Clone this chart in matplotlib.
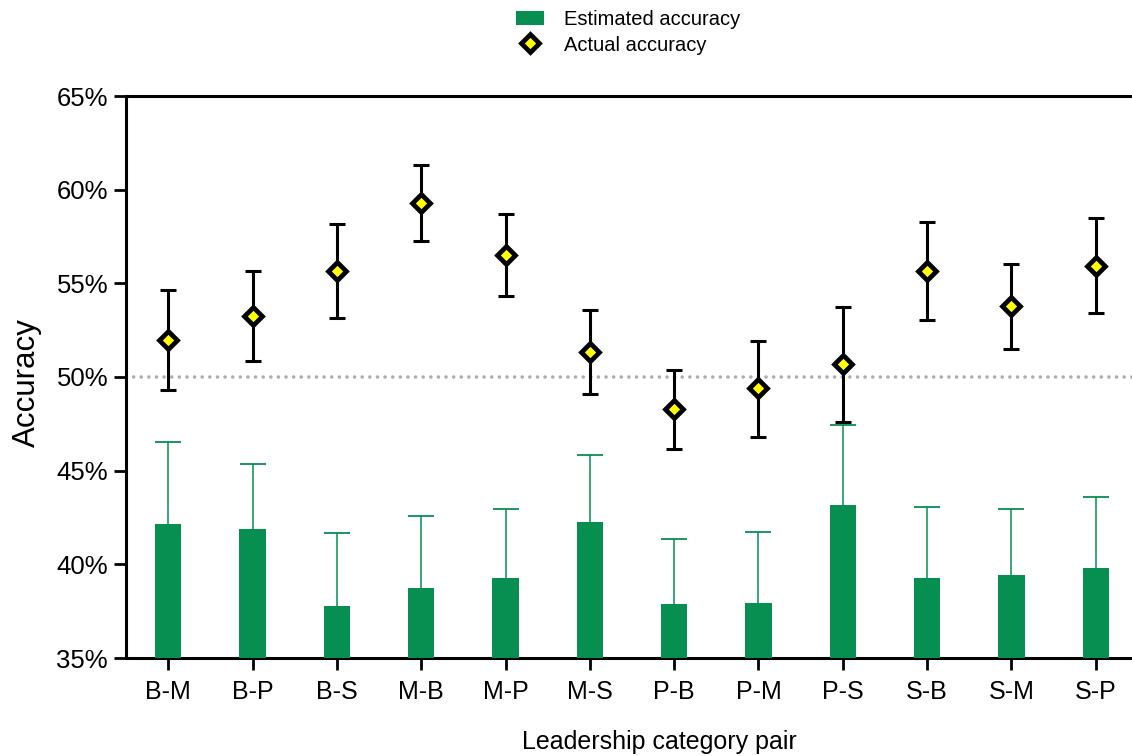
import matplotlib
matplotlib.use("Agg")
import matplotlib.pyplot as plt
import numpy as np
from matplotlib.ticker import PercentFormatter
from matplotlib.lines import Line2D
from matplotlib.patches import Patch

plt.rcParams['font.family'] = ['Liberation Sans', 'DejaVu Sans']

categories = ["B-M", "B-P", "B-S", "M-B", "M-P", "M-S", "P-B", "P-M", "P-S", "S-B", "S-M", "S-P"]

# Estimated accuracy (bars) and upper end of its error bar
estimated = [42.15, 41.88, 37.77, 38.74, 39.27, 42.26, 37.88, 37.93, 43.16, 39.27, 39.43, 39.80]
estimated_upper = [46.53, 45.37, 41.67, 42.56, 42.97, 45.85, 41.37, 41.74, 47.45, 43.07, 42.93, 43.58]

# Actual accuracy (points) with interval bounds
actual = [52.00, 53.24, 55.64, 59.28, 56.52, 51.32, 48.29, 49.39, 50.72, 55.64, 53.77, 55.91]
actual_lower = [49.33, 50.83, 53.13, 57.26, 54.31, 49.08, 46.17, 46.82, 47.62, 53.02, 51.52, 53.40]
actual_upper = [54.63, 55.64, 58.16, 61.30, 58.71, 53.56, 50.36, 51.90, 53.72, 58.26, 56.02, 58.48]

chance_level = 50
y_ticks = [35, 40, 45, 50, 55, 60, 65]

green = '#078f51'

fig = plt.figure(figsize=(11.32, 7.56), dpi=100)
ax = fig.add_axes([126/1132, 98/756, (1138-126)/1132, (658-96)/756])

x = np.arange(len(categories))
est = np.array(estimated)
est_err = np.array(estimated_upper) - est

ax.errorbar(x, est, yerr=est_err, fmt='none', ecolor=green, elinewidth=1.1,
            capsize=9.7, capthick=1.3, zorder=2)
ax.bar(x, est, width=0.31, color=green, zorder=3)

ax.axhline(chance_level, color='#aeaeae', lw=2.6, linestyle=(0, (0.01, 2.1)),
           dash_capstyle='round', zorder=1)

act = np.array(actual)
yerr = np.vstack([act - np.array(actual_lower), np.array(actual_upper) - act])
ax.errorbar(x, act, yerr=yerr, fmt='none', ecolor='black', elinewidth=2.2,
            capsize=5.8, capthick=2.2, zorder=4)
ax.plot(x, act, linestyle='none', marker='D', markersize=9.5, markerfacecolor='#ffff00',
        markeredgecolor='black', markeredgewidth=3.4, zorder=5)

ax.set_xlim(-0.5, len(categories) - 0.5)
ax.set_ylim(35, 65)
ax.set_yticks(y_ticks)
ax.yaxis.set_major_formatter(PercentFormatter(xmax=100, decimals=0))
ax.set_xticks(x)
ax.set_xticklabels(categories)

for s in ['left', 'bottom', 'top']:
    ax.spines[s].set_linewidth(2.2)
ax.spines['right'].set_visible(False)
ax.tick_params(axis='both', length=8.6, width=2.0, direction='out')
ax.tick_params(axis='y', pad=4.3, labelsize=18.5)
ax.tick_params(axis='x', pad=7, labelsize=18)
ax.tick_params(top=False)

ax.set_ylabel('Accuracy', fontsize=22.5)
ax.yaxis.set_label_coords((42 - 126) / 1012, 0.49)
ax.set_xlabel('Leadership category pair', fontsize=18)
ax.xaxis.set_label_coords((659 - 126) / 1012, (658 - 730) / 562)

handles = [Patch(facecolor=green, edgecolor='none'),
           Line2D([], [], linestyle='none', marker='D', markersize=9.5,
                  markerfacecolor='#ffff00', markeredgecolor='black', markeredgewidth=3.4)]
fig.legend(handles, ['Estimated accuracy', 'Actual accuracy'], loc='center',
           bbox_to_anchor=(628/1132, 1 - 32.5/756), frameon=False, fontsize=14.5,
           handlelength=1.4, handletextpad=1.0, labelspacing=0.3)

fig.savefig('out.png', dpi=100)
